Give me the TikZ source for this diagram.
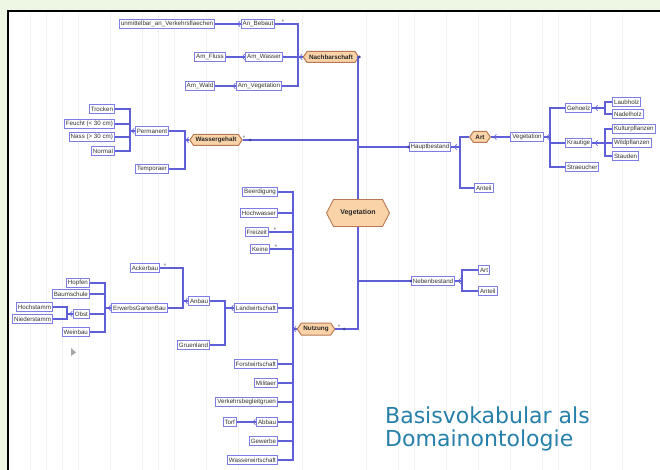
\documentclass[tikz,border=0pt]{standalone}
\usepackage{fontspec}
\setmainfont{Liberation Sans}
\newfontfamily\titlefont{DejaVu Sans}
\usetikzlibrary{shapes.symbols}
\definecolor{bgg}{RGB}{238,246,228}
\definecolor{linec}{RGB}{95,95,215}
\definecolor{boxd}{RGB}{125,125,228}
\definecolor{orf}{RGB}{250,212,168}
\definecolor{ord}{RGB}{185,120,85}
\definecolor{titc}{RGB}{38,128,170}
\begin{document}
\begin{tikzpicture}[x=1pt,y=-1pt,
  box/.style={draw=boxd, fill=white, line width=1.1pt, font=\fontsize{6.2}{7}\selectfont, inner xsep=1.5pt, inner ysep=0pt, minimum height=9.5pt, text=black!80},
  obox/.style={signal, signal to=west and east, signal pointer angle=110, draw=ord, fill=orf, line width=1pt, font=\fontsize{6.3}{7}\selectfont\bfseries, inner xsep=2pt, inner ysep=0pt, minimum height=11pt, text=black!85},
  vegbox/.style={signal, signal to=west and east, signal pointer angle=125, draw=ord, fill=orf, line width=0.9pt, font=\fontsize{7}{8}\selectfont\bfseries, minimum width=63pt, minimum height=27pt, inner xsep=4pt, text=black!85},
  conn/.style={draw=linec, line width=1.1pt},
  dotc/.style={fill=linec!70!black},
  starm/.style={font=\fontsize{7}{7}\selectfont, text=gray, inner sep=0pt},
  mk/.pic={\draw[linec, line width=0.6pt] (2.4,-2.8) -- (0,0) -- (2.4,2.8);}
]
\useasboundingbox (0,0) rectangle (660,470);
\fill[bgg] (0,0) rectangle (660,470);
\fill[white] (8,11) rectangle (660,470);
\foreach \gx in {30,46,62,78,110,142,158,174,206,238,302,366,398,414,446,478,510,542,558,590,622}
  \draw[black!5, line width=0.8pt] (\gx,13) -- (\gx,470);
\draw[black, line width=2pt] (8,470) -- (8,11) -- (660,11);

% ---------- top: Nachbarschaft ----------
\node[box] (U) at (167,24) {unmittelbar\_an\_Verkehrsflaechen};
\node[box] (AnB) at (258,24) {An\_Bebaut};
\node[box] (AmF) at (210,57) {Am\_Fluss};
\node[box] (AmW) at (264,57) {Am\_Wasser};
\node[box] (AmWa) at (200,86) {Am\_Wald};
\node[box] (AmV) at (259,86) {Am\_Vegetation};
\node[obox] (Nach) at (331,57) {Nachbarschaft};
\coordinate (nb) at (298,0);
\draw[conn] (U.east) -- (AnB.west);
\draw[conn] (AmF.east) -- (AmW.west);
\draw[conn] (AmWa.east) -- (AmV.west);
\draw[conn] (AnB.east) -- (AnB.east -| nb) -- (AmV.east -| nb) -- (AmV.east);
\draw[conn] (AmW.east) -- (Nach.west);
\node[starm] at (283,22) {*};

% ---------- central trunk ----------
\node[vegbox] (Veg) at (358,213) {Vegetation};
\coordinate (tr) at (358,0);
\draw[conn] (Nach.east) -- (Nach.east -| tr) -- (Veg.north);
\fill[dotc] (Nach.east) circle (1.5);

% ---------- Wassergehalt ----------
\node[obox] (Wasser) at (216,140) {Wassergehalt};
\node[box] (Perm) at (152,131) {Permanent};
\node[box] (Temp) at (152,169) {Temporaer};
\node[box, anchor=east] (Trock) at (115,109) {Trocken};
\node[box, anchor=east] (Feucht) at (115,124) {Feucht (< 30 cm)};
\node[box, anchor=east] (Nass) at (115,137) {Nass (> 30 cm)};
\node[box, anchor=east] (Norm) at (115,151) {Normal};
\coordinate (wb1) at (130,0);
\coordinate (wb2) at (185,0);
\draw[conn] (Trock.east) -| (wb1 |- Norm.east) -- (Norm.east);
\draw[conn] (Feucht.east) -- (Feucht.east -| wb1);
\draw[conn] (Nass.east) -- (Nass.east -| wb1);
\draw[conn] (wb1 |- Perm.west) -- (Perm.west);
\draw[conn] (Perm.east) -| (wb2 |- Temp.east) -- (Temp.east);
\draw[conn] (wb2 |- Wasser.west) -- (Wasser.west);
\draw[conn] (Wasser.east) -- (Wasser.east -| tr);
\node[starm] at (244,138) {*};
\fill[dotc] (250,140) circle (1.5);

% ---------- Hauptbestand ----------
\node[box] (Haupt) at (430,147) {Hauptbestand};
\draw[conn] (Haupt.west -| tr) -- (Haupt.west);
\fill[dotc] (Haupt.west) circle (1.5);
\node[obox] (Art1) at (480,137) {Art};
\node[box, anchor=west] (Ant1) at (474,188) {Anteil};
\coordinate (hb) at (460,0);
\draw[conn] (Haupt.east) -- (Haupt.east -| hb);
\draw[conn] (Art1.west) -| (hb |- Ant1.west) -- (Ant1.west);
\node[box] (VegR) at (527,137) {Vegetation};
\draw[conn] (Art1.east) -- (VegR.west);
\node[box, anchor=west] (Geh) at (565,108) {Gehoelz};
\node[box, anchor=west] (Kraut) at (565,143) {Krautige};
\node[box, anchor=west] (Strauch) at (565,167) {Straeucher};
\coordinate (vb) at (550,0);
\draw[conn] (VegR.east) -- (VegR.east -| vb);
\draw[conn] (Geh.west) -| (vb |- Strauch.west) -- (Strauch.west);
\draw[conn] (vb |- Kraut.west) -- (Kraut.west);
\node[box, anchor=west] (Laub) at (612,102) {Laubholz};
\node[box, anchor=west] (Nadel) at (612,114) {Nadelholz};
\coordinate (gb) at (605,0);
\draw[conn] (Geh.east) -- (Geh.east -| gb);
\draw[conn] (Laub.west) -| (gb |- Nadel.west) -- (Nadel.west);
\node[box, anchor=west] (Kult) at (612,129) {Kulturpflanzen};
\node[box, anchor=west] (Wild) at (612,143) {Wildpflanzen};
\node[box, anchor=west] (Staud) at (612,156) {Stauden};
\draw[conn] (Kraut.east) -- (Wild.west);
\draw[conn] (Kult.west) -| (gb |- Staud.west) -- (Staud.west);

% ---------- Nebenbestand ----------
\node[box] (Neben) at (433,281) {Nebenbestand};
\draw[conn] (Neben.west -| tr) -- (Neben.west);
\fill[dotc] (Neben.west) circle (1.5);
\node[box, anchor=west] (Art2) at (478,270) {Art};
\node[box, anchor=west] (Ant2) at (478,291) {Anteil};
\coordinate (nbb) at (462,0);
\draw[conn] (Neben.east) -- (Neben.east -| nbb);
\draw[conn] (Art2.west) -| (nbb |- Ant2.west) -- (Ant2.west);

% ---------- Nutzung ----------
\node[obox, minimum height=12pt] (Nutz) at (316,329) {Nutzung};
\draw[conn] (Nutz.east) -- (Nutz.east -| tr) -- (Veg.south);
\node[starm] at (339,327) {*};
\fill[dotc] (344,329) circle (1.5);
\coordinate (ub) at (293,0);
\node[box, anchor=east] (Beerd) at (278,192) {Beerdigung};
\node[box, anchor=east] (Hochw) at (278,213) {Hochwasser};
\node[box, anchor=east] (Freiz) at (269,232) {Freizeit};
\node[box, anchor=east] (Keine) at (270,249) {Keine};
\node[box, anchor=east] (Landw) at (278,308) {Landwirtschaft};
\node[box, anchor=east] (Forst) at (278,364) {Forstwirtschaft};
\node[box, anchor=east] (Milit) at (278,383) {Militaer};
\node[box, anchor=east] (Verk) at (278,402) {Verkehrsbegleitgruen};
\node[box, anchor=east] (Abbau) at (278,422) {Abbau};
\node[box, anchor=east] (Gew) at (278,441) {Gewerbe};
\node[box, anchor=east] (WasW) at (278,460) {Wasserwirtschaft};
\draw[conn] (Beerd.east) -| (ub |- WasW.east) -- (WasW.east);
\foreach \n in {Hochw,Freiz,Keine,Landw,Forst,Milit,Verk,Abbau,Gew}
  \draw[conn] (\n.east) -- (\n.east -| ub);
\draw[conn] (ub |- Nutz.west) -- (Nutz.west);
\node[starm] at (275,230) {*};
\node[starm] at (276,247) {*};
\node[box, anchor=east] (Torf) at (237,422) {Torf};
\draw[conn] (Torf.east) -- (Abbau.west);

% Landwirtschaft subtree
\node[box, anchor=east] (Anbau) at (210,301) {Anbau};
\node[box, anchor=east] (Gruen) at (210,345) {Gruenland};
\coordinate (lb) at (225,0);
\draw[conn] (Anbau.east) -| (lb |- Gruen.east) -- (Gruen.east);
\draw[conn] (lb |- Landw.west) -- (Landw.west);
\node[box, anchor=east] (Acker) at (160,268) {Ackerbau};
\node[box, anchor=east] (Erw) at (168,308) {ErwerbsGartenBau};
\coordinate (ab) at (183,0);
\draw[conn] (Acker.east) -| (ab |- Erw.east) -- (Erw.east);
\draw[conn] (ab |- Anbau.west) -- (Anbau.west);
\node[starm] at (165,266) {*};
\node[box, anchor=east] (Hopf) at (90,283) {Hopfen};
\node[box, anchor=east] (Baum) at (90,294) {Baumschule};
\node[box, anchor=east] (Obst) at (90,314) {Obst};
\node[box, anchor=east] (Wein) at (90,332) {Weinbau};
\coordinate (eb) at (105,0);
\draw[conn] (Hopf.east) -| (eb |- Wein.east) -- (Wein.east);
\draw[conn] (Baum.east) -- (Baum.east -| eb);
\draw[conn] (Obst.east) -- (Obst.east -| eb);
\draw[conn] (eb |- Erw.west) -- (Erw.west);
\node[box, anchor=east] (Hoch) at (53,307) {Hochstamm};
\node[box, anchor=east] (Nied) at (53,319) {Niederstamm};
\coordinate (ob) at (67,0);
\draw[conn] (Hoch.east) -| (ob |- Nied.east) -- (Nied.east);
\draw[conn] (ob |- Obst.west) -- (Obst.west);

% small expand markers
\foreach \n in {AnB,AmW,AmV,Nach,Perm,Wasser,Anbau,Landw,Erw,Obst,Nutz,Abbau}
  \pic at ([xshift=-3pt]\n.west) {mk};
\foreach \n in {Haupt,Art1,VegR,Geh,Kraut,Neben}
  \pic at ([xshift=3pt]\n.east) {mk};

% cursor
\fill[gray!70] (71,348) -- (71,356) -- (76,352.5) -- cycle;

% title
\node[anchor=base west, inner sep=0pt, font=\titlefont\fontsize{22}{26}\selectfont, text=titc] (T1) at (385,423) {Basisvokabular als};
\node[anchor=base west, inner sep=0pt, font=\titlefont\fontsize{22}{26}\selectfont, text=titc] (T2) at (385,446) {Domainontologie};
\end{tikzpicture}
\end{document}
